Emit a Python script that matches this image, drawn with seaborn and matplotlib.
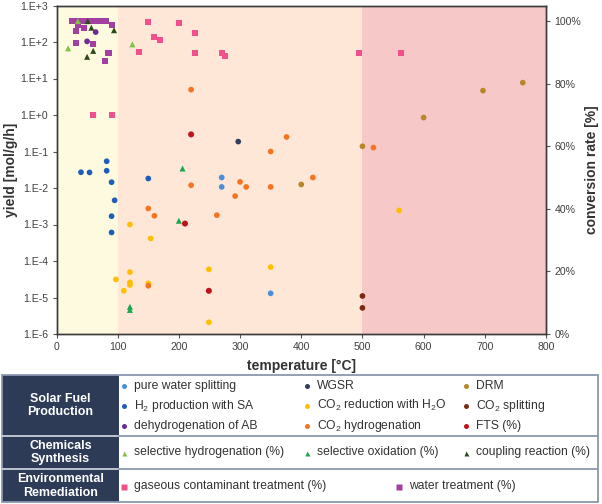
import numpy as np
import pandas as pd
import matplotlib
matplotlib.use("Agg")
import matplotlib.pyplot as plt
from matplotlib.patches import Rectangle
import seaborn as sns

# ---------------- data (yield series, left axis) ----------------
pws_T = [270, 270, 350]
pws_y = [0.0194, 0.0107, 1.3e-5]

sa_T = [40, 54, 82, 82, 90, 95, 90, 90, 150]
sa_y = [0.027, 0.0267, 0.054, 0.0297, 0.0144, 0.0046, 0.00169, 0.000605, 0.0182]

ab_T = [64, 50]
ab_y = [187, 104]

wgsr_T = [297]
wgsr_y = [0.187]

co2r_T = [120, 154, 120, 97, 120, 120, 110, 150, 249, 350, 249, 560]
co2r_y = [1.0e-3, 4.15e-4, 4.97e-5, 3.14e-5, 2.6e-5, 2.2e-5, 1.53e-5, 2.44e-5,
          5.9e-5, 6.8e-5, 2.1e-6, 2.42e-3]

co2h_T = [220, 376, 350, 518, 419, 220, 300, 310, 350, 292, 262, 150, 160, 150]
co2h_y = [4.95, 0.25, 0.10, 0.128, 0.0194, 0.0119, 0.0147, 0.0107, 0.0107,
          0.0060, 0.0018, 0.00275, 0.00173, 2.1e-5]

drm_T = [500, 600, 697, 762, 400]
drm_y = [0.139, 0.85, 4.65, 7.7, 0.0125]

co2s_T = [500, 500]
co2s_y = [1.1e-5, 5.2e-6]

# ---------------- data (conversion series, right axis, %) ----------------
fts_T = [220, 210, 249]
fts_c = [63.8, 35.3, 13.8]

sh_T = [19, 124, 35]
sh_c = [91.3, 92.6, 100.0]

so_T = [120, 120, 200, 206]
so_c = [8.7, 7.7, 36.2, 52.9]

cp_T = [57, 94, 60, 50, 51]
cp_c = [97.9, 97.1, 90.5, 88.6, 100.0]

gas_T = [150, 160, 169, 135, 200, 227, 226, 270, 275, 495, 563, 60, 90]
gas_c = [99.8, 95.0, 93.9, 90.0, 99.3, 96.1, 89.9, 89.9, 88.9, 89.9, 89.9, 69.9, 69.9]

wt_T = [25, 35, 43, 51, 56, 64, 73, 81, 90, 35, 32, 45, 32, 60, 85, 79]
wt_c = [100, 100, 100, 100, 100, 100, 100, 100, 98.9, 98.7, 96.9, 97.9, 93.1, 92.7, 89.9, 87.2]

x_ticks = [0, 100, 200, 300, 400, 500, 600, 700, 800]
y_ticks = [1e-6, 1e-5, 1e-4, 1e-3, 1e-2, 1e-1, 1e0, 1e1, 1e2, 1e3]
y_ticklabels = ["1.E-6", "1.E-5", "1.E-4", "1.E-3", "1.E-2", "1.E-1", "1.E+0", "1.E+1", "1.E+2", "1.E+3"]
c_ticks = [0, 20, 40, 60, 80, 100]
c_ticklabels = ["0%", "20%", "40%", "60%", "80%", "100%"]
zones = [(0, 100, "#FEFAE0"), (100, 500, "#FEE7D6"), (500, 800, "#F7C8C8")]

# ---------------- styles ----------------
colors = {
    "pure water splitting": "#4A8FD8",
    "H2 production with SA": "#1F5EB8",
    "dehydrogenation of AB": "#6B2D90",
    "WGSR": "#2F3E5F",
    "CO2 reduction with H2O": "#FFBF00",
    "CO2 hydrogenation": "#F47521",
    "DRM": "#B8862C",
    "CO2 splitting": "#7A2A12",
    "FTS (%)": "#C0141C",
    "selective hydrogenation (%)": "#80C342",
    "selective oxidation (%)": "#1BA84D",
    "coupling reaction (%)": "#2E4A1B",
    "gaseous contaminant treatment (%)": "#F0508C",
    "water treatment (%)": "#A33FA0",
}
markers = {k: "o" for k in colors}
for k in ["selective hydrogenation (%)", "selective oxidation (%)", "coupling reaction (%)"]:
    markers[k] = "^"
for k in ["gaseous contaminant treatment (%)", "water treatment (%)"]:
    markers[k] = "s"

left_series = [
    ("pure water splitting", pws_T, pws_y),
    ("H2 production with SA", sa_T, sa_y),
    ("dehydrogenation of AB", ab_T, ab_y),
    ("WGSR", wgsr_T, wgsr_y),
    ("CO2 reduction with H2O", co2r_T, co2r_y),
    ("CO2 hydrogenation", co2h_T, co2h_y),
    ("DRM", drm_T, drm_y),
    ("CO2 splitting", co2s_T, co2s_y),
]
right_series = [
    ("water treatment (%)", wt_T, wt_c),
    ("gaseous contaminant treatment (%)", gas_T, gas_c),
    ("FTS (%)", fts_T, fts_c),
    ("selective hydrogenation (%)", sh_T, sh_c),
    ("selective oxidation (%)", so_T, so_c),
    ("coupling reaction (%)", cp_T, cp_c),
]

def to_df(series):
    rows = []
    for name, T, v in series:
        for t, val in zip(T, v):
            rows.append({"T": t, "v": val, "series": name})
    return pd.DataFrame(rows)

left_df = to_df(left_series)
right_df = to_df(right_series)

# ---------------- figure ----------------
sns.set_style("ticks")
plt.rcParams["font.family"] = ["Liberation Sans", "DejaVu Sans"]
plt.rcParams["mathtext.fontset"] = "custom"
plt.rcParams["mathtext.rm"] = "Liberation Sans"
plt.rcParams["mathtext.it"] = "Liberation Sans:italic"
plt.rcParams["mathtext.bf"] = "Liberation Sans:bold"

W, H = 602, 504
fig = plt.figure(figsize=(W / 100, H / 100), dpi=100)
fig.patch.set_facecolor("white")

axL, axR, axT, axB = 56.5, 546, 5.5, 334
ax = fig.add_axes([axL / W, 1 - axB / H, (axR - axL) / W, (axB - axT) / H])
ax.set_facecolor("white")
for x0, x1, c in zones:
    ax.axvspan(x0, x1, color=c, lw=0, zorder=0)

ax.set_yscale("log")
sns.scatterplot(data=left_df, x="T", y="v", hue="series", style="series",
                palette={k: colors[k] for k, _, _ in left_series},
                markers={k: markers[k] for k, _, _ in left_series},
                s=17, linewidth=0, legend=False, ax=ax, zorder=3)
ax.set_xlim(0, 800)
ax.set_ylim(1e-6, 1e3)
ax.set_yticks(y_ticks)
ax.set_yticklabels(y_ticklabels)
ax.yaxis.set_minor_locator(matplotlib.ticker.NullLocator())
ax.set_xticks(x_ticks)
ax.set_xticklabels([str(t) for t in x_ticks])

ax2 = ax.twinx()
sns.scatterplot(data=right_df, x="T", y="v", hue="series", style="series",
                palette={k: colors[k] for k, _, _ in right_series},
                markers={k: markers[k] for k, _, _ in right_series},
                s=19, linewidth=0, legend=False, ax=ax2, zorder=3)
ax2.set_ylim(0, 105)
ax2.set_xlim(0, 800)
ax2.set_yticks(c_ticks)
ax2.set_yticklabels(c_ticklabels)

spine_c = "#3A3A3A"
for a in (ax, ax2):
    for sp in a.spines.values():
        sp.set_visible(True)
        sp.set_color(spine_c)
        sp.set_linewidth(1.0)
    a.tick_params(axis="both", which="major", length=3, width=0.8, color="#555555",
                  labelsize=7.6, labelcolor="#404040", pad=3)

ax.set_xlabel("temperature [°C]", fontsize=10, fontweight="bold", color="#333333", labelpad=5)
ax.set_ylabel("yield [mol/g/h]", fontsize=10, fontweight="bold", color="#333333", labelpad=2)
ax2.set_ylabel("conversion rate [%]", fontsize=10, fontweight="bold", color="#333333", labelpad=3)

# ---------------- legend table (pixel coordinates) ----------------
tab = fig.add_axes([0, 0, 1, 1], zorder=-1)
tab.set_xlim(0, W)
tab.set_ylim(H, 0)
tab.axis("off")

t_left, t_right, t_top, t_bot = 2, 598, 374.5, 501.5
hdr_right = 119
row_lines = [436, 469]
hdr_color = "#2D3B57"
border = "#8A97AE"

tab.add_patch(Rectangle((t_left, t_top), hdr_right - t_left, t_bot - t_top,
                        facecolor=hdr_color, edgecolor="none"))
tab.add_patch(Rectangle((t_left, t_top), t_right - t_left, t_bot - t_top,
                        facecolor="none", edgecolor=border, lw=1.3))
for yl in row_lines:
    tab.plot([t_left, hdr_right], [yl, yl], color="#C9CFDA", lw=1.3)
    tab.plot([hdr_right, t_right], [yl, yl], color=border, lw=1.3)

headers = [("Solar Fuel\nProduction", 405.5), ("Chemicals\nSynthesis", 452.5),
           ("Environmental\nRemediation", 486)]
for txt, yy in headers:
    tab.text((t_left + hdr_right) / 2, yy, txt, ha="center", va="center",
             color="white", fontsize=9, fontweight="bold", linespacing=1.15)

labels = {
    "pure water splitting": "pure water splitting",
    "H2 production with SA": "H$_\\mathregular{2}$ production with SA",
    "dehydrogenation of AB": "dehydrogenation of AB",
    "WGSR": "WGSR",
    "CO2 reduction with H2O": "CO$_\\mathregular{2}$ reduction with H$_\\mathregular{2}$O",
    "CO2 hydrogenation": "CO$_\\mathregular{2}$ hydrogenation",
    "DRM": "DRM",
    "CO2 splitting": "CO$_\\mathregular{2}$ splitting",
    "FTS (%)": "FTS (%)",
    "selective hydrogenation (%)": "selective hydrogenation (%)",
    "selective oxidation (%)": "selective oxidation (%)",
    "coupling reaction (%)": "coupling reaction (%)",
    "gaseous contaminant treatment (%)": "gaseous contaminant treatment (%)",
    "water treatment (%)": "water treatment (%)",
}
entries = [
    ("pure water splitting", 123.5, 386), ("H2 production with SA", 123.5, 405.5),
    ("dehydrogenation of AB", 123.5, 425.5),
    ("WGSR", 306.5, 386), ("CO2 reduction with H2O", 306.5, 405.5),
    ("CO2 hydrogenation", 306.5, 425.5),
    ("DRM", 465.5, 386), ("CO2 splitting", 465.5, 405.5), ("FTS (%)", 465.5, 425.5),
    ("selective hydrogenation (%)", 123.5, 452.5), ("selective oxidation (%)", 306.5, 452.5),
    ("coupling reaction (%)", 465.5, 452.5),
    ("gaseous contaminant treatment (%)", 123.5, 486.5), ("water treatment (%)", 399, 486.5),
]
msize = {"o": 3.6, "^": 3.6, "s": 4.0}
for key, mx, my in entries:
    mk = markers[key]
    tab.plot([mx], [my], marker=mk, ms=msize[mk], color=colors[key], mec="none", ls="none")
    tab.text(mx + 10.5, my, labels[key], ha="left", va="center", fontsize=8.7, color="#333333")

fig.savefig("out.png", dpi=100)
